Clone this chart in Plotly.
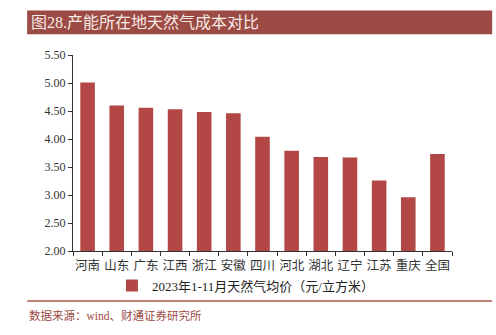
import plotly.graph_objects as go

provinces = ["河南", "山东", "广东", "江西", "浙江", "安徽", "四川",
             "河北", "湖北", "辽宁", "江苏", "重庆", "全国"]
gas_price = [5.01, 4.60, 4.56, 4.53, 4.48, 4.46, 4.04,
             3.79, 3.68, 3.67, 3.26, 2.96, 3.73]
y_ticks = [2.0, 2.5, 3.0, 3.5, 4.0, 4.5, 5.0, 5.5]
series_name = "2023年1-11月天然气均价（元/立方米）"
title_text = "图28.产能所在地天然气成本对比"
source_text = "数据来源：wind、财通证券研究所"

bar_color = "#b24745"
band_color = "#9c4a44"
font_serif = "Liberation Serif, Noto Sans CJK SC, serif"

fig = go.Figure()
fig.add_trace(go.Bar(
    x=provinces, y=gas_price, name=series_name,
    marker=dict(color=bar_color, line=dict(width=0)),
    width=0.5,
))

fig.update_layout(
    width=496, height=335,
    margin=dict(l=73, r=44, t=55, b=84),
    paper_bgcolor="white", plot_bgcolor="white",
    font=dict(family=font_serif, size=12, color="#222222"),
    showlegend=True,
    legend=dict(orientation="h", x=0.455, xref="paper", xanchor="center",
                y=-0.1, yanchor="top", font=dict(size=13, color="#222222"),
                itemwidth=30, bgcolor="rgba(0,0,0,0)"),
    xaxis=dict(type="category", showline=True, linecolor="#333333", linewidth=1,
               ticks="outside", ticklen=4, tickcolor="#333333", tickson="boundaries",
               tickangle=0, ticklabelstandoff=3, tickfont=dict(size=12.5, color="#333333"),
               showgrid=False, zeroline=False),
    yaxis=dict(range=[2.0, 5.5], tickvals=y_ticks, ticktext=[f"{v:.2f}" for v in y_ticks],
               showline=True, linecolor="#333333", linewidth=1,
               ticks="outside", ticklen=4, tickcolor="#333333",
               tickfont=dict(size=12, color="#333333"), showgrid=False, zeroline=False),
    bargap=0.5,
    shapes=[
        dict(type="rect", xref="paper", yref="paper", x0=-0.121, x1=1.106,
             y0=1.106, y1=1.227, fillcolor=band_color, line=dict(width=0), layer="below"),
        dict(type="line", xref="paper", yref="paper", x0=-0.121, x1=1.106,
             y0=-0.255, y1=-0.255, line=dict(color="#c0837c", width=2)),
    ],
    annotations=[
        dict(text=title_text, xref="paper", yref="paper", x=-0.115, y=1.166,
             xanchor="left", yanchor="middle", showarrow=False,
             font=dict(size=16, color="#f7ebe6", family=font_serif)),
        dict(text=source_text, xref="paper", yref="paper", x=-0.121, y=-0.33,
             xanchor="left", yanchor="middle", showarrow=False,
             font=dict(size=11.5, color="#9c4a44", family=font_serif)),
    ],
)

fig.write_html("out.html")
